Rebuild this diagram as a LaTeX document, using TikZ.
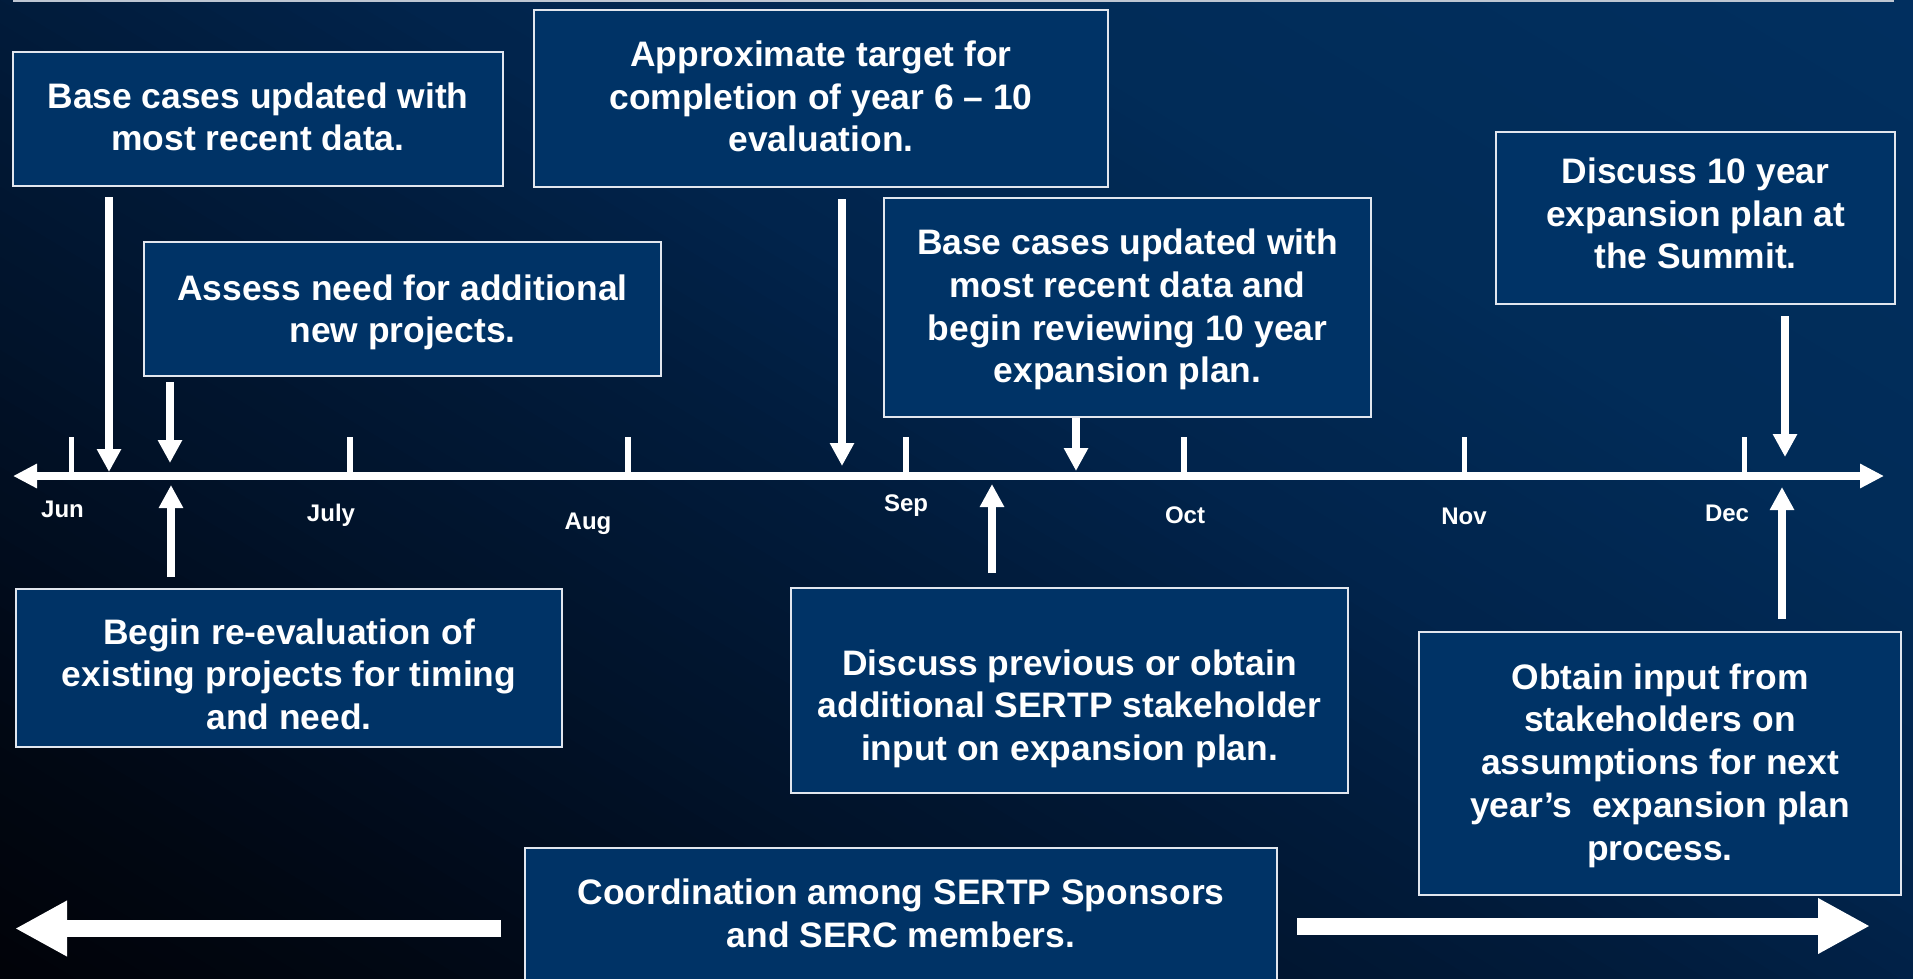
\documentclass[tikz,border=0pt]{standalone}
\usepackage{fontspec}
\setmainfont{Liberation Sans}
\usetikzlibrary{arrows.meta}
\definecolor{boxc}{RGB}{0,51,102}
\definecolor{boxline}{RGB}{225,230,238}
\definecolor{topline}{RGB}{190,198,210}
\tikzset{
  box/.style={draw=boxline, line width=2pt, fill=boxc, inner sep=0pt},
  txt/.style={text=white, align=center, inner sep=0pt,
    font=\fontsize{35.4}{42.7}\selectfont\bfseries,
    execute at begin node=\strut, execute at end node=\strut},
  month/.style={text=white, inner sep=0pt, anchor=base,
    font=\fontsize{24}{28}\selectfont\bfseries},
  arr/.style={white, line width=7.3pt, -{Triangle[width=23pt,length=23pt]}},
  bigarr/.style={white, line width=17pt, -{Triangle[width=52pt,length=52pt]}},
  tickmark/.style={white, line width=5.5pt},
}
\begin{document}
\begin{tikzpicture}[x=1pt,y=-1pt]
\useasboundingbox (0,0) rectangle (1913,978);
% background gradient (dark lower-left to navy upper-right)
\begin{scope}
\clip (0,0) rectangle (1913,978);
\foreach \s in {-900,-880,...,1000}{
  \pgfmathtruncatemacro\G{\s<-600 ? 3+(\s+860)/260*6 : (\s<-300 ? 9+(\s+600)/300*10 : (\s<0 ? 19+(\s+300)/300*9 : (\s<200 ? 28+\s/200*8 : (\s<500 ? 36+(\s-200)/300*8 : 44+(\s-500)/500*4))))}
  \pgfmathtruncatemacro\B{\s<-600 ? 8+(\s+860)/260*14 : (\s<-300 ? 22+(\s+600)/300*20 : (\s<0 ? 42+(\s+300)/300*18 : (\s<200 ? 60+\s/200*16 : (\s<500 ? 76+(\s-200)/300*12 : 88+(\s-500)/500*8))))}
  \pgfmathtruncatemacro\Gc{max(0,\G)}
  \pgfmathtruncatemacro\Bc{max(0,\B)}
  \definecolor{bandc}{RGB}{1,\Gc,\Bc}
  \fill[bandc] ({0.515*\s+0.857*(-300)},{-0.857*\s+0.515*(-300)})
    -- ({0.515*(\s+22)+0.857*(-300)},{-0.857*(\s+22)+0.515*(-300)})
    -- ({0.515*(\s+22)+0.857*2500},{-0.857*(\s+22)+0.515*2500})
    -- ({0.515*\s+0.857*2500},{-0.857*\s+0.515*2500}) -- cycle;
}
\end{scope}
% thin top line
\coordinate (topL) at (13,1);
\coordinate (topR) at (1894,1);
\draw[topline, line width=1.3pt] (topL) -- (topR);

% timeline
\coordinate (tlL) at (13,476);
\coordinate (tlR) at (1884,476);
\draw[white, line width=7.5pt, {Triangle[width=23pt,length=24pt]}-{Triangle[width=23pt,length=24pt]}] (tlL) -- (tlR);
\foreach \x in {71.5,350,628,906,1184,1464.5,1744.5}
  \draw[tickmark] (\x,437) -- (\x,476);

% month labels
\node[month] (mJun) at (62.5,517) {Jun};
\node[month] (mJul) at (331,521) {July};
\node[month] (mAug) at (588,529) {Aug};
\node[month] (mSep) at (906,511) {Sep};
\node[month] (mOct) at (1185,523) {Oct};
\node[month] (mNov) at (1464,524) {Nov};
\node[month] (mDec) at (1727,521) {Dec};

% boxes
\node[box, minimum width=490pt, minimum height=134pt] (bA) at (258,119) {};
\node[txt] (tA) at (258,123) {Base cases updated with\\most recent data.};

\node[box, minimum width=574pt, minimum height=177pt] (bB) at (821,98.5) {};
\node[txt] (tB) at (821,102.6) {Approximate target for\\completion of year 6 – 10\\evaluation.};

\node[box, minimum width=517pt, minimum height=134pt] (bC) at (402.5,309) {};
\node[txt] (tC) at (402.5,315) {Assess need for additional\\new projects.};

\node[box, minimum width=487pt, minimum height=219pt] (bD) at (1127.5,307.5) {};
\node[txt] (tD) at (1127.5,312.4) {Base cases updated with\\most recent data and\\begin reviewing 10 year\\expansion plan.};

\node[box, minimum width=399pt, minimum height=172pt] (bE) at (1695.5,218) {};
\node[txt] (tE) at (1695.5,219.7) {Discuss 10 year\\expansion plan at\\the Summit.};

\node[box, minimum width=546pt, minimum height=158pt] (bF) at (289,668) {};
\node[txt] (tF) at (289,680.5) {Begin re-evaluation of\\existing projects for timing\\and need.};

\node[box, minimum width=557pt, minimum height=205pt] (bG) at (1069.5,690.5) {};
\node[txt] (tG) at (1069.5,711.4) {Discuss previous or obtain\\additional SERTP stakeholder\\input on expansion plan.};

\node[box, minimum width=482pt, minimum height=263pt] (bH) at (1660,763.5) {};
\node[txt] (tH) at (1660,768.2) {Obtain input from\\stakeholders on\\assumptions for next\\year’s~ expansion plan\\process.};

\node[box, minimum width=752pt, minimum height=142pt] (bI) at (901,919) {};
\node[txt] (tI) at (901,919.4) {Coordination among SERTP Sponsors\\and SERC members.};

% arrows between boxes and timeline
\coordinate (aAs) at (109,197);   \coordinate (aAe) at (109,472);
\coordinate (aCs) at (170,382);   \coordinate (aCe) at (170,463);
\coordinate (aFs) at (171,577);   \coordinate (aFe) at (171,485);
\coordinate (aBs) at (842,199);   \coordinate (aBe) at (842,466);
\coordinate (aDs) at (1076,418);  \coordinate (aDe) at (1076,471);
\coordinate (aGs) at (992,573);   \coordinate (aGe) at (992,484);
\coordinate (aEs) at (1785,316);  \coordinate (aEe) at (1785,457);
\coordinate (aHs) at (1782,619);  \coordinate (aHe) at (1782,487);
\draw[arr] (aAs) -- (aAe);
\draw[arr] (aCs) -- (aCe);
\draw[arr] (aFs) -- (aFe);
\draw[arr] (aBs) -- (aBe);
\draw[arr] (aDs) -- (aDe);
\draw[arr] (aGs) -- (aGe);
\draw[arr] (aEs) -- (aEe);
\draw[arr] (aHs) -- (aHe);

% big bottom arrows
\coordinate (blS) at (501,928.5); \coordinate (blE) at (15,928.5);
\coordinate (brS) at (1297,926);  \coordinate (brE) at (1870,926);
\draw[bigarr] (blS) -- (blE);
\draw[bigarr] (brS) -- (brE);
\end{tikzpicture}
\end{document}
